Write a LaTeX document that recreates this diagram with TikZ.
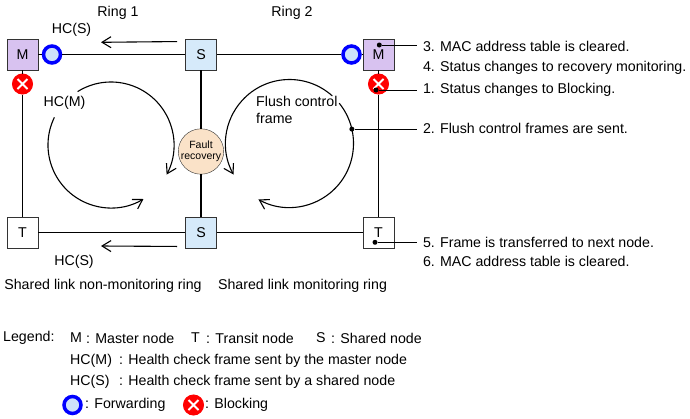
\documentclass[tikz,border=0pt]{standalone}
\usepackage{fontspec}
\setmainfont{Liberation Sans}
\usetikzlibrary{arrows.meta,positioning}
\definecolor{mfill}{RGB}{216,194,240}
\definecolor{sfill}{RGB}{214,234,250}
\definecolor{frfill}{RGB}{250,226,200}
\definecolor{fwfill}{RGB}{205,225,250}
\definecolor{fwblue}{RGB}{0,0,255}
\definecolor{blred}{RGB}{255,0,0}

\begin{document}
\begin{tikzpicture}[x=1pt,y=1pt,
      font=\fontsize{14.2}{17}\selectfont,
      box/.style={draw=black!80,minimum size=31pt,inner sep=0pt,line width=0.9pt},
      mbox/.style={box,fill=mfill},
      sbox/.style={box,fill=sfill},
      tbox/.style={box,fill=white},
      fw/.style={circle,draw=fwblue,line width=3.5pt,fill=fwfill,
                 minimum size=17pt,inner sep=0pt},
      bl/.style={circle,draw=blred,fill=blred,line width=1pt,
                 minimum size=20pt,inner sep=0pt,
                 path picture={\draw[white,line width=2pt]
                   ([shift={(-5,-5)}]path picture bounding box.center) --
                   ([shift={(5,5)}]path picture bounding box.center)
                   ([shift={(-5,5)}]path picture bounding box.center) --
                   ([shift={(5,-5)}]path picture bounding box.center);}},
      ln/.style={line width=1.2pt},
      a/.style={-{Straight Barb[length=9pt,width=11pt]},line width=1.1pt},
      txt/.style={inner sep=0pt,anchor=west},
      note/.style={inner sep=0pt,outer xsep=6pt,anchor=west},
      dot/.style={circle,fill=black,inner sep=0pt,minimum size=5pt}]
  \useasboundingbox (0,0) rectangle (690,-418);

  % rings
  \node[mbox] (m1) at (22.5,-54.5) {M};
  \node[fw] (f1) at (52,-54.5) {};
  \node[sbox] (s1) at (201,-54.5) {S};
  \node[fw] (f2) at (351.5,-54.5) {};
  \node[mbox] (m2) at (378.5,-54.5) {M};
  \node[bl] (b1) at (22.5,-84) {};
  \node[bl] (b2) at (378.5,-84) {};
  \node[tbox] (t1) at (22.5,-232.5) {T};
  \node[sbox] (s2) at (201,-232.5) {S};
  \node[tbox] (t2) at (378.5,-232.5) {T};
  \node[circle,draw=black!80,fill=frfill,minimum size=45pt,inner sep=0pt,
        align=center,font=\fontsize{10.5}{11.5}\selectfont] (fr) at (201,-151.5) {Fault\\recovery};
  \draw[ln] (m1) -- (f1) -- (s1) -- (f2) -- (m2) -- (b2) -- (t2) -- (s2) -- (t1) -- (b1) -- (m1);
  \draw[ln] (s1) -- (fr) -- (s2);

  \node (r1) at (118,-13) {Ring 1};
  \node (r2) at (292,-13) {Ring 2};

  % HC(S) frames
  \coordinate (h1) at (101,-42.3);
  \coordinate (h2) at (101,-246);
  \draw[a] ([xshift=-8pt,yshift=-3pt]s1.north west) -- (h1);
  \draw[a] ([xshift=-8pt,yshift=2pt]s2.south west) -- (h2);
  \node (hc1) at (71.5,-30) {HC(S)};
  \node (hc2) at (74,-261.5) {HC(S)};

  % HC(M) and flush control
  \coordinate (cl) at (111,-145);
  \coordinate (cr) at (289.5,-143.5);
  \draw[a] ([shift={(154:63)}]cl) arc[start angle=154,end angle=301,radius=63];
  \draw[a] ([shift={(122:63)}]cl) arc[start angle=122,end angle=-28,radius=63];
  \draw[a] ([shift={(48:64)}]cr) arc[start angle=48,end angle=209,radius=64];
  \draw[a] ([shift={(39:64)}]cr) arc[start angle=39,end angle=-119,radius=64];
  \node (hcm) at (64.5,-102.5) {HC(M)};
  \node[inner sep=0pt,anchor=north west,align=left] (fc) at (256,-96.5) {Flush control\\frame};

  % notes
  \node[dot] (d3) at (379.3,-45) {};
  \node[dot] (d1) at (376,-90) {};
  \node[dot] (d2) at ([shift={(13:64)}]cr) {};
  \node[dot] (d5) at (375,-242.3) {};
  \node[note] (n3) at (417,-46.5) {3. MAC address table is cleared.};
  \node[note] (n4) at (417,-67.5) {4. Status changes to recovery monitoring.};
  \node[note] (n1) at (417,-90) {1. Status changes to Blocking.};
  \node[note] (n2) at (417,-128.3) {2. Flush control frames are sent.};
  \node[note] (n5) at (417,-242.5) {5. Frame is transferred to next node.};
  \node[note] (n6) at (417,-261.5) {6. MAC address table is cleared.};
  \draw[line width=1pt] (d3) -- (d3 -| n3.west);
  \draw[line width=1pt] (d1) -- (d1 -| n1.west);
  \draw[line width=1pt] (d2) -- (d2 -| n2.west);
  \draw[line width=1pt] (d5) -- (d5 -| n5.west);

  \node (sl1) at (103,-285.5) {Shared link non-monitoring ring};
  \node (sl2) at (302.5,-285.5) {Shared link monitoring ring};

  % legend
  \node[txt] (lg) at (3,-338) {Legend:};
  \node[txt] (lm) at (70,-338) {M};
  \node[txt] (lmt) at (86,-338) {: Master node};
  \node[txt] (lt) at (191,-338) {T};
  \node[txt] (ltt) at (206,-338) {: Transit node};
  \node[txt] (ls) at (316,-338) {S};
  \node[txt] (lst) at (331,-338) {: Shared node};
  \node[txt] (lhm) at (70,-361) {HC(M)};
  \node[txt] (lhmt) at (119,-361) {: Health check frame sent by the master node};
  \node[txt] (lhs) at (70,-382) {HC(S)};
  \node[txt] (lhst) at (119,-382) {: Health check frame sent by a shared node};
  \node[fw] (lf) at (72.5,-405) {};
  \node[txt] (lft) at (85,-405) {: Forwarding};
  \node[bl] (lb) at (193.5,-405) {};
  \node[txt] (lbt) at (205,-405) {: Blocking};
\end{tikzpicture}
\end{document}
